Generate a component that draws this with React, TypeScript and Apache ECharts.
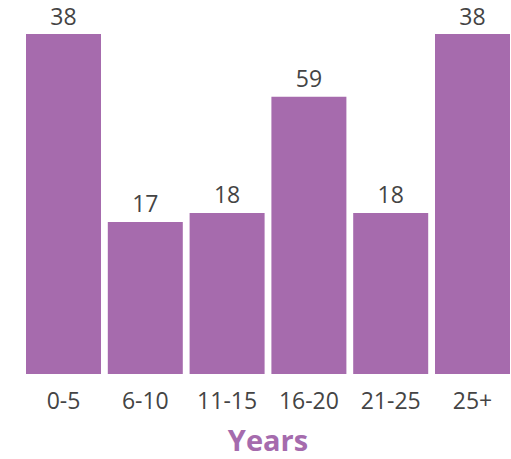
import React, { useEffect, useRef } from "react";
import * as echarts from "echarts";

const categories = ["0-5", "6-10", "11-15", "16-20", "21-25", "25+"];
// bar heights as drawn in the reference
const barHeights = [38, 17, 18, 31, 18, 38];
// values printed above the bars
const labelValues = [38, 17, 18, 59, 18, 38];
const axisTitle = "Years";

export default function App() {
  const ref = useRef<HTMLDivElement>(null);
  useEffect(() => {
    if (!ref.current) return;
    const chart = echarts.init(ref.current, null, { renderer: "svg" });
    chart.setOption({
      animation: false,
      grid: { left: 22.6, width: 490.8, top: 34, height: 340, outerBoundsMode: "none", containLabel: false },
      graphic: [
        {
          type: "text",
          x: 268,
          y: 439,
          style: {
            text: axisTitle,
            fill: "#a56bad",
            fontFamily: "Open Sans",
            fontWeight: "bold",
            fontSize: 29,
            textAlign: "center",
            verticalAlign: "middle",
          },
        },
      ],
      xAxis: {
        type: "category",
        data: categories,
        axisLine: { show: false },
        axisTick: { show: false },
        axisLabel: {
          color: "#444",
          fontFamily: "Open Sans",
          fontSize: 23,
          margin: 14,
        },
      },
      yAxis: {
        type: "value",
        min: 0,
        max: 38,
        show: false,
        splitLine: { show: false },
      },
      series: [
        {
          type: "bar",
          data: barHeights,
          barWidth: 75,
          itemStyle: { color: "#a66bad" },
          label: {
            show: true,
            position: "top",
            distance: 7,
            color: "#444",
            fontFamily: "Open Sans",
            fontSize: 23,
            formatter: (p: any) => String(labelValues[p.dataIndex]),
          },
        },
      ],
    });
    return () => chart.dispose();
  }, []);
  return <div ref={ref} style={{ width: 511, height: 459, position: "absolute", left: 0, top: 0 }} />;
}
